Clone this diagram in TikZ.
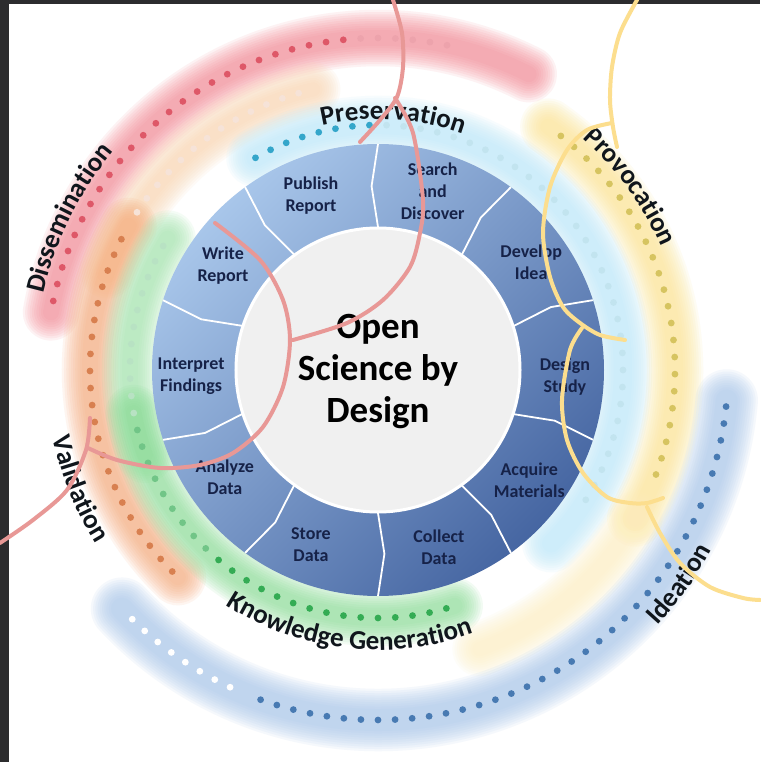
\documentclass[tikz,border=0pt]{standalone}
\usepackage{fontspec}
\setmainfont{Carlito}
\usetikzlibrary{decorations.text}

\definecolor{frame}{RGB}{44,44,46}
\definecolor{ringlight}{RGB}{168,198,234}
\definecolor{ringdark}{RGB}{70,102,162}
\definecolor{centre}{RGB}{240,240,240}
\definecolor{navy}{RGB}{22,34,72}
\definecolor{ink}{RGB}{16,22,28}
\definecolor{pinkpen}{RGB}{232,152,150}
\definecolor{yellowpen}{RGB}{252,222,142}
\definecolor{redglow}{RGB}{244,138,150}
\definecolor{reddot}{RGB}{222,88,104}
\definecolor{orangeglow}{RGB}{246,172,124}
\definecolor{peachglow}{RGB}{250,214,178}
\definecolor{orangedot}{RGB}{216,128,80}
\definecolor{greenglow}{RGB}{140,222,152}
\definecolor{greendot}{RGB}{52,172,84}
\definecolor{cyanglow}{RGB}{188,232,250}
\definecolor{cyandot}{RGB}{52,166,202}
\definecolor{yellowglow}{RGB}{252,228,146}
\definecolor{yellowdot}{RGB}{214,196,96}
\definecolor{blueglow}{RGB}{168,198,234}
\definecolor{bluedot}{RGB}{72,122,178}

% soft band: colour, radius, from, to, core width
\def\glowband#1#2#3#4#5{\foreach \k in {0,...,9}{\draw[#1, opacity=0.11, line cap=round, line width=#5pt+\k*4.5pt] (#3:#2) arc (#3:#4:#2);}}
% dotted trail: colour, radius, first, second, last
\def\dottrail#1#2#3#4#5{\foreach \a in {#3,#4,...,#5}{\fill[#1] (\a:#2) circle (3.4);}}

\tikzset{
  stage/.style={text=navy, align=center, font=\fontsize{18}{22}\selectfont\bfseries},
  outerlabel/.style={decorate, decoration={text along path, text align=center, text color=ink, text={|\fontsize{27}{27}\selectfont\bfseries|#1}}},
  pen/.style={#1, line width=4pt, line cap=round}
}

\begin{document}
\begin{tikzpicture}[x=1pt, y=1pt]
			%%%%% START %%%%%
			
			\useasboundingbox (-378,-392) rectangle (382,370);
			\fill[white] (-378,-392) rectangle (382,370);
			
			% Dissemination
			\glowband{redglow}{332}{63}{170}{16}
			\dottrail{reddot}{332}{168}{165}{96}
			\dottrail{reddot!55!white}{332}{93}{90}{78}
			
			% Validation
			\glowband{peachglow}{288}{103}{160}{14}
			\glowband{orangeglow}{288}{150}{226}{16}
			\dottrail{orangedot!22!white}{288}{106}{109.4}{150}
			\dottrail{orangedot}{288}{153}{156.4}{226}
			
			% Knowledge Generation
			\glowband{greenglow!80!white}{248}{148}{200}{16}
			\glowband{greenglow}{248}{190}{288}{16}
			\dottrail{greendot!35!white}{248}{150}{154}{190}
			\dottrail{greendot!70!white}{248}{194}{198}{226}
			\dottrail{greendot}{248}{230}{234}{286}
			
			% Preservation
			\glowband{cyanglow}{245}{120}{-45}{18}
			\dottrail{cyandot}{245}{120}{116}{92}
			\dottrail{cyandot!30!white}{245}{88}{84}{-32}
			
			% Provocation
			\glowband{yellowglow}{297}{55}{-30}{16}
			\glowband{yellowglow!55!white}{297}{-30}{-70}{14}
			\dottrail{yellowdot}{297}{52}{48.7}{-22}
			
			% Ideation
			\glowband{blueglow}{350}{-5}{-137}{22}
			\dottrail{bluedot}{350}{-6}{-8.8}{-112}
			\dottrail{white}{350}{-115}{-117.8}{-137}
			
			% ring of stages
			\shade[top color=ringlight, bottom color=ringdark, shading angle=45] (0,0) circle (226);
			\foreach \a in {18,54,...,342}
				\draw[white, line width=1.8pt] (\a:143) -- (\a+2:184) -- (\a:226);
			\draw[white, line width=3pt, fill=centre] (0,0) circle (142);
			
			\foreach \ang/\txt/\nm in {111/{Publish\\Report}/publish, 73/{Search\\and\\Discover}/search,
				35/{Develop\\Idea}/develop, -2/{Design\\Study}/design, -36/{Acquire\\Materials}/acquire,
				-71/{Collect\\Data}/collect, -111/{Store\\Data}/store, -145/{Analyze\\Data}/analyze,
				182/{Interpret\\Findings}/interpret, 146/{Write\\Report}/write}
				\node[stage] (\nm) at (\ang:187) {\txt};
			
			\node[align=center, text=black, font=\fontsize{37}{42}\selectfont\bfseries] (title) at (0,-2) {Open\\Science by\\Design};
			
			% outer labels
			\path[outerlabel=Preservation] (116.6:251) arc (116.6:56.6:251);
			\path[outerlabel=Dissemination] (183.8:343) arc (183.8:123.8:343);
			\path[outerlabel=Provocation] (66:309) arc (66:6:309);
			\path[outerlabel=Ideation] (-65.4:379) arc (-65.4:-5.4:379);
			\path[outerlabel={Knowledge Generation}] (-136.5:280) arc (-136.5:-56.5:280);
			\path[outerlabel=Validation] (-188.3:332) arc (-188.3:-128.3:332);
			
			% frame and pen strokes, in pixels
			\begin{scope}[shift={(-378,370)}, yscale=-1]
				\fill[frame] (0,0) rectangle (9,762);
				\fill[frame] (0,0) rectangle (760,4);
				
				\draw[pen=pinkpen] plot[smooth] coordinates {(393,0) (402,33) (403,67) (397,97) (380,120) (360,142)};
				\draw[pen=pinkpen] plot[smooth] coordinates {(395,98) (413,133) (423,200) (420,233) (410,267) (383,300) (347,323) (293,340)};
				\draw[pen=pinkpen] plot[smooth] coordinates {(215,223) (260,260) (283,300) (290,340) (283,387) (263,427) (233,453) (200,465) (160,468) (117,460) (88,448)};
				\draw[pen=pinkpen] plot[smooth] coordinates {(90,418) (86,450) (67,490) (33,520) (0,543)};
				
				\draw[pen=yellowpen] plot[smooth] coordinates {(637,0) (620,33) (612,67) (610,100) (613,127) (617,147)};
				\draw[pen=yellowpen] plot[smooth] coordinates {(612,123) (587,130) (567,150) (550,187) (543,233) (550,277) (563,307) (580,323) (600,335) (625,340)};
				\draw[pen=yellowpen] plot[smooth] coordinates {(582,328) (570,350) (562,400) (567,440) (583,473) (607,497) (630,503) (647,503) (663,498)};
				\draw[pen=yellowpen] plot[smooth] coordinates {(647,507) (660,533) (680,563) (710,587) (743,598) (760,600)};
			\end{scope}
			
			%%%%% END %%%%%
\end{tikzpicture}
\end{document}
